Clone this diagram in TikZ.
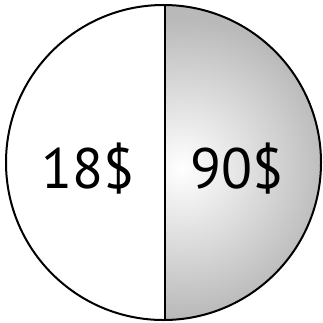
\documentclass[tikz,border=0pt]{standalone}
\usepackage{fontspec}
\setmainfont{PT Sans}
\begin{document}
\begin{tikzpicture}[x=1pt,y=-1pt,
  outline/.style={draw=black,line width=2pt},
  price/.style={font=\fontsize{57}{60}\selectfont,inner sep=0pt,anchor=center}]
\useasboundingbox (0,0) rectangle (323,322);
\coordinate (c) at (163.5,162.5);
\coordinate (top) at (164.5,4);
\coordinate (bot) at (164.5,321);
\begin{scope}
  \clip (164.5,0) rectangle (323,322);
  \clip (c) circle (157.5);
  \fill[gray!55] (164.5,0) rectangle (323,322);
  \shade[inner color=white,outer color=gray!55] (182,168) circle (150);
\end{scope}
\draw[outline] (c) circle (157.5);
\draw[outline] (top) -- (bot);
\node[price] (a) at (88,169) {18\$};
\node[price] (b) at (237,169) {90\$};
\end{tikzpicture}
\end{document}
